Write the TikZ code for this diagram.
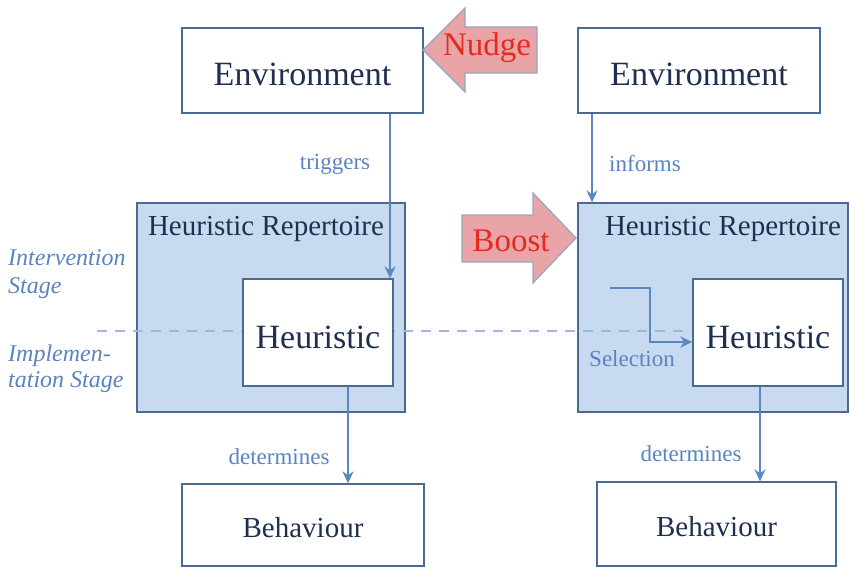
\documentclass[tikz,border=0pt]{standalone}
\usepackage{fontspec}
\setmainfont{Liberation Serif}
\usetikzlibrary{arrows.meta}
\definecolor{navy}{HTML}{1F2F4F}
\definecolor{lbl}{HTML}{5A84C0}
\definecolor{edge}{HTML}{4A6A94}
\definecolor{hrfill}{HTML}{C8DAEF}
\definecolor{arrc}{HTML}{5B86C4}
\definecolor{dashc}{HTML}{9DB8DD}
\definecolor{pinkf}{HTML}{E8A4A6}
\definecolor{pinkd}{HTML}{9AA4C4}
\definecolor{redt}{HTML}{E62A22}
\tikzset{
  box/.style={draw=edge, line width=1.3pt, fill=white, inner sep=0pt, text=navy},
  hrbox/.style={draw=edge, line width=1.3pt, fill=hrfill, inner sep=0pt},
  big/.style={font=\fontsize{34}{38}\selectfont},
  mid/.style={font=\fontsize{29}{33}\selectfont},
  lab/.style={font=\fontsize{23}{26}\selectfont, text=lbl, inner sep=0pt},
  stage/.style={font=\fontsize{24}{28}\selectfont\itshape, text=lbl, inner sep=0pt, anchor=west},
  arr/.style={draw=arrc, line width=2.1pt, -{Stealth[length=12pt,width=11pt]}},
  fat/.style={fill=pinkf, draw=pinkd, line width=1.2pt, line join=miter},
  fattext/.style={font=\fontsize{33}{36}\selectfont, text=redt, inner sep=0pt}
}
\begin{document}
\begin{tikzpicture}[x=1pt,y=-1pt]
\useasboundingbox (0,0) rectangle (851,570);
% Repertoire boxes
\node[hrbox, minimum width=268pt, minimum height=209pt] (hrL) at (271,307.5) {};
\node[hrbox, minimum width=270pt, minimum height=209pt] (hrR) at (713,307.5) {};
\node[mid, text=navy, inner sep=0pt] (hrLt) at (266,229) {Heuristic Repertoire};
\node[mid, text=navy, inner sep=0pt] (hrRt) at (723,229) {Heuristic Repertoire};
% dashed stage line
\coordinate (dA) at (97,331);
\coordinate (dB) at (690,331);
\draw[draw=dashc, line width=1.6pt, dash pattern=on 10pt off 8pt] (dA) -- (dB);
% boxes
\node[box, big, text height=29pt, text depth=0pt, minimum width=241pt, minimum height=85pt] (envL) at (302.5,70.5) {Environment};
\node[box, big, text height=29pt, text depth=0pt, minimum width=242pt, minimum height=85pt] (envR) at (699,70.5) {Environment};
\node[box, big, text height=32pt, text depth=0pt, minimum width=150pt, minimum height=107pt] (hL) at (318,332.5) {Heuristic};
\node[box, big, text height=32pt, text depth=0pt, minimum width=150pt, minimum height=107pt] (hR) at (768,332.5) {Heuristic};
\node[box, mid, text height=25pt, text depth=0pt, minimum width=242pt, minimum height=82pt] (bL) at (303,525) {Behaviour};
\node[box, mid, text height=25pt, text depth=0pt, minimum width=239pt, minimum height=84pt] (bR) at (716.5,524) {Behaviour};
% connectors
\draw[arr] (envL.south -| 390,0) -- (hL.north -| 390,0);
\draw[arr] (envR.south -| 592,0) -- (hrR.north -| 592,0);
\draw[arr] (hL.south -| 348,0) -- (bL.north -| 348,0);
\draw[arr] (hR.south -| 760,0) -- (bR.north -| 760,0);
\coordinate (selS) at (610,288);
\draw[arr] (selS) -- (650,288) -- (650,342) -- (hR.west |- 0,342);
% labels
\node[lab] (lt) at (335,164) {triggers};
\node[lab] (li) at (645,164) {informs};
\node[lab] (ld1) at (279,457) {determines};
\node[lab] (ld2) at (691,454) {determines};
\node[lab] (ls) at (632,359) {Selection};
% stage labels
\node[stage] (s1) at (8,258) {Intervention};
\node[stage] (s2) at (8,288) {Stage};
\node[stage] (s3) at (8,356) {Implemen-};
\node[stage] (s4) at (8,382) {tation Stage};
% Nudge arrow
\draw[fat] (423,50) -- (465,8) -- (465,27) -- (537,27) -- (537,73) -- (465,73) -- (465,92) -- cycle;
\node[fattext] (nudge) at (487,48) {Nudge};
% Boost arrow
\draw[fat] (462,215) -- (533,215) -- (533,193) -- (576,238) -- (533,283) -- (533,262) -- (462,262) -- cycle;
\node[fattext] (boost) at (511,241) {Boost};
\end{tikzpicture}
\end{document}
